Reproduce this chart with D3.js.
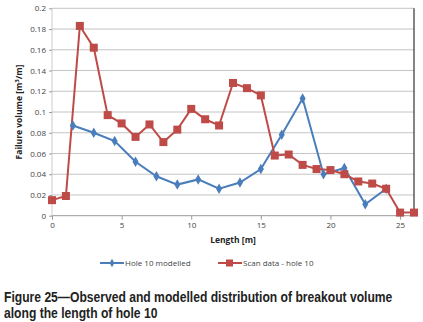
<!DOCTYPE html>
<html>
<head>
<meta charset="utf-8">
<script src="https://cdn.jsdelivr.net/npm/d3@7"></script>
<style>
    body { margin: 0; background: #fff; }
    svg { display: block; }
    .tick text { font-family: "Open Sans", sans-serif; font-size: 8px; fill: #444; }
    .axis-title { font-family: "Open Sans", sans-serif; font-size: 8.5px; font-weight: bold; fill: #222; }
    .legend text { font-family: "Open Sans", sans-serif; font-size: 8px; fill: #444; }
    .caption { font-family: "Liberation Sans", Arial, sans-serif; font-size: 14px; font-weight: bold; fill: #222; }
</style>
</head>
<body>
<div id="chart"></div>
<script>

// modelled values (blue)
let modelledX = [1.5, 3, 4.5, 6, 7.5, 9, 10.5, 12, 13.5, 15, 16.5, 18, 19.5, 21, 22.5, 24];
let modelledY = [0.087, 0.080, 0.072, 0.052, 0.038, 0.030, 0.035, 0.026, 0.032, 0.045, 0.078, 0.113, 0.040, 0.046, 0.011, 0.026];

// scan data (red)
let scanX = [0, 1, 2, 3, 4, 5, 6, 7, 8, 9, 10, 11, 12, 13, 14, 15, 16, 17, 18, 19, 20, 21, 22, 23, 24, 25, 26];
let scanY = [0.015, 0.019, 0.183, 0.162, 0.097, 0.089, 0.076, 0.088, 0.071, 0.083, 0.103, 0.093, 0.087, 0.128, 0.123, 0.116,
    0.058, 0.059, 0.049, 0.045, 0.044, 0.040, 0.033, 0.031, 0.026, 0.003, 0.003];

let xTicks = [0, 5, 10, 15, 20, 25];
let yTicks = [0, 0.02, 0.04, 0.06, 0.08, 0.1, 0.12, 0.14, 0.16, 0.18, 0.2];

let seriesNames = ["Hole 10 modelled", "Scan data - hole 10"];
let captionLines = ["Figure 25\u2014Observed and modelled distribution of breakout volume",
    "along the length of hole 10"];

let blue = "#4a7ebb", red = "#be4b48";

let width = 423, height = 322;
let margin = {top: 8.3, right: 9, bottom: 106.3, left: 52};
let w = width - margin.left - margin.right;
let h = height - margin.top - margin.bottom;

let svg = d3.select("#chart").append("svg")
    .attr("width", width)
    .attr("height", height);

let g = svg.append("g")
    .attr("transform", "translate(" + margin.left + "," + margin.top + ")");

let xScale = d3.scaleLinear().domain([0, 26]).range([0, w]);
let yScale = d3.scaleLinear().domain([0, 0.2]).range([h, 0]);

// gridlines
g.append("g")
    .selectAll("line")
    .data(yTicks)
    .enter().append("line")
    .attr("x1", 0).attr("x2", w)
    .attr("y1", d => yScale(d)).attr("y2", d => yScale(d))
    .attr("stroke", d => d === 0 ? "#999" : "#c4c4c4")
    .attr("stroke-width", 1);

// left axis line and right border
g.append("line").attr("x1", 0).attr("x2", 0).attr("y1", 0).attr("y2", h)
    .attr("stroke", "#ccc");
g.append("line").attr("x1", w).attr("x2", w).attr("y1", 0).attr("y2", h)
    .attr("stroke", "#333").attr("stroke-width", 1.2);

// axes
let yAxis = d3.axisLeft(yScale).tickValues(yTicks).tickSize(3)
    .tickFormat(d => d === 0 ? "0" : d3.format("~g")(d));
g.append("g").attr("class", "axis")
    .call(yAxis)
    .call(a => a.select(".domain").remove())
    .call(a => a.selectAll(".tick line").attr("stroke", "#999"))
    .call(a => a.selectAll(".tick text").attr("x", -6));

let xAxis = d3.axisBottom(xScale).tickValues(xTicks).tickSize(4);
g.append("g").attr("class", "axis")
    .attr("transform", "translate(0," + h + ")")
    .call(xAxis)
    .call(a => a.select(".domain").remove())
    .call(a => a.selectAll(".tick line").attr("stroke", "#999"))
    .call(a => a.selectAll(".tick text").attr("y", 7));

// axis titles
svg.append("text").attr("class", "axis-title")
    .attr("transform", "translate(22," + (margin.top + h / 2) + ") rotate(-90)")
    .attr("text-anchor", "middle")
    .html('Failure volume [m<tspan dy="-3" font-size="6px">3</tspan><tspan dy="3">/m]</tspan>');

svg.append("text").attr("class", "axis-title")
    .attr("x", 233).attr("y", 243)
    .attr("text-anchor", "middle")
    .text("Length [m]");

// lines
let line = d3.line()
    .x(d => xScale(d[0]))
    .y(d => yScale(d[1]));

let modelled = modelledX.map((x, i) => [x, modelledY[i]]);
let scan = scanX.map((x, i) => [x, scanY[i]]);

g.append("path").datum(modelled)
    .attr("d", line).attr("fill", "none")
    .attr("stroke", blue).attr("stroke-width", 2);

g.append("path").datum(scan)
    .attr("d", line).attr("fill", "none")
    .attr("stroke", red).attr("stroke-width", 2);

let diamond = d3.symbol().type(d3.symbolDiamond).size(32);

g.selectAll(".blue-pt").data(modelled)
    .enter().append("path")
    .attr("class", "blue-pt")
    .attr("d", diamond)
    .attr("transform", d => "translate(" + xScale(d[0]) + "," + yScale(d[1]) + ")")
    .attr("fill", blue);

g.selectAll(".red-pt").data(scan)
    .enter().append("rect")
    .attr("class", "red-pt")
    .attr("x", d => xScale(d[0]) - 4)
    .attr("y", d => yScale(d[1]) - 4)
    .attr("width", 8).attr("height", 8)
    .attr("fill", red);

// legend
let legend = svg.append("g").attr("class", "legend");
let legendItems = [
    {x: 100, color: blue, name: seriesNames[0], marker: "diamond"},
    {x: 218, color: red, name: seriesNames[1], marker: "square"}
];
legendItems.forEach(d => {
    let ly = 263;
    legend.append("line")
        .attr("x1", d.x).attr("x2", d.x + 24)
        .attr("y1", ly).attr("y2", ly)
        .attr("stroke", d.color).attr("stroke-width", 2);
    if (d.marker === "diamond") {
        legend.append("path")
            .attr("d", d3.symbol().type(d3.symbolDiamond).size(20))
            .attr("transform", "translate(" + (d.x + 12) + "," + ly + ")")
            .attr("fill", d.color);
    } else {
        legend.append("rect")
            .attr("x", d.x + 8).attr("y", ly - 3.5)
            .attr("width", 7).attr("height", 7)
            .attr("fill", d.color);
    }
    legend.append("text")
        .attr("x", d.x + 25).attr("y", ly + 3)
        .text(d.name);
});

// caption: no narrow face installed, so squeeze horizontally to the original width
let capG = svg.append("g");
let capText = capG.selectAll("text")
    .data(captionLines)
    .enter().append("text")
    .attr("class", "caption")
    .attr("x", 0)
    .attr("y", (d, i) => i * 16)
    .text(d => d);
let natural = capText.node().getComputedTextLength();
let squeeze = 389 / natural;
capG.attr("transform", "translate(4,302) scale(" + squeeze + ",1)");

</script>
</body>
</html>
